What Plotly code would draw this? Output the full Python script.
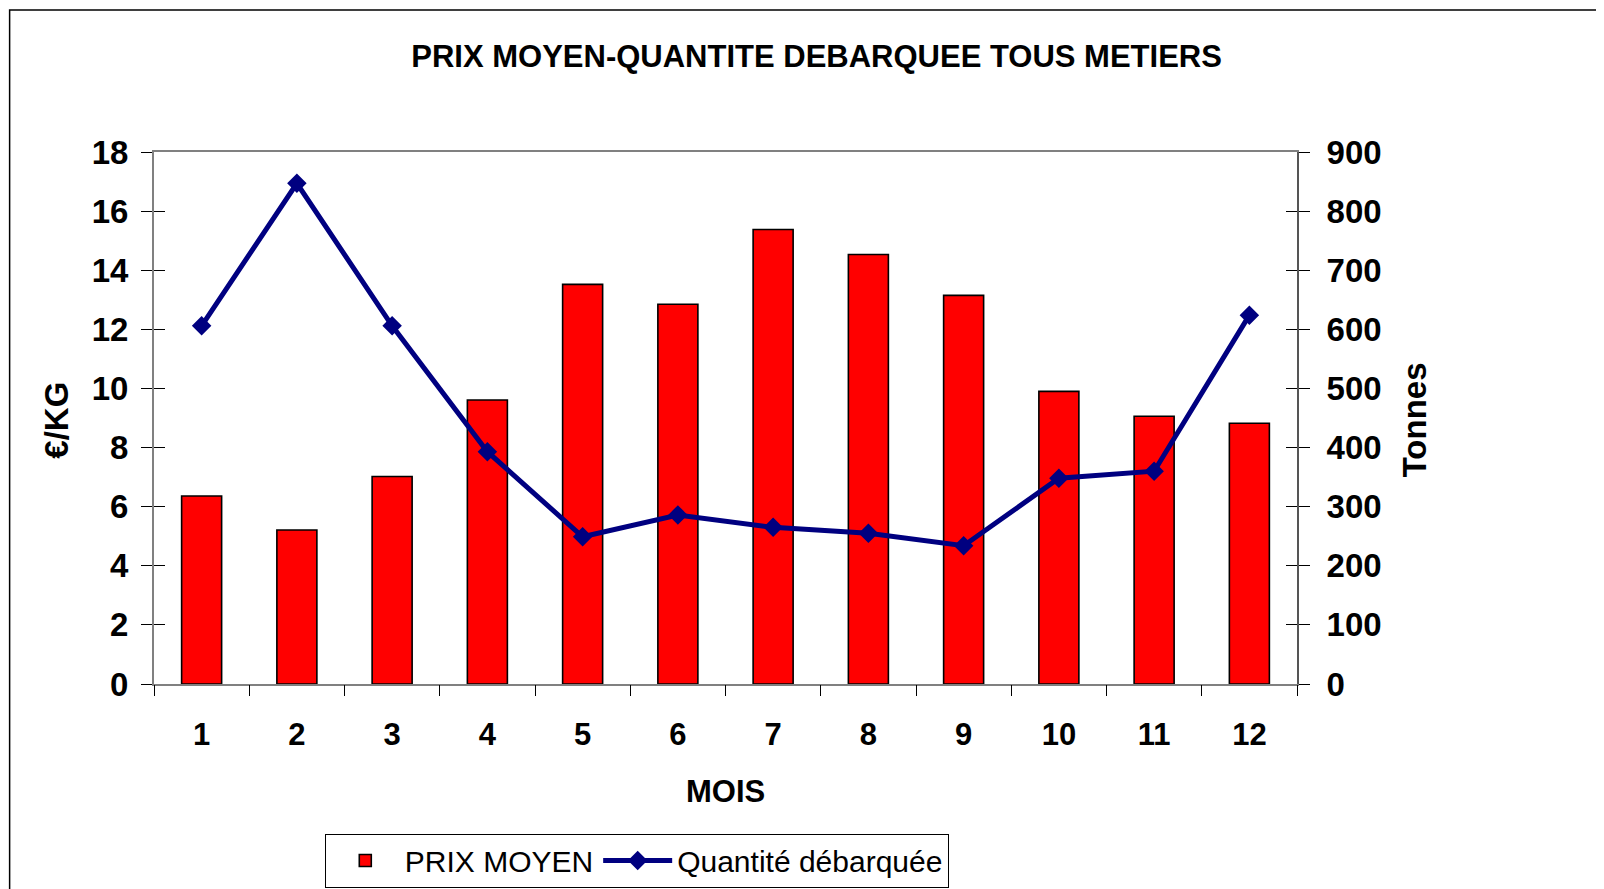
import plotly.graph_objects as go

# ---- data ----
months = [1, 2, 3, 4, 5, 6, 7, 8, 9, 10, 11, 12]
month_labels = ["1", "2", "3", "4", "5", "6", "7", "8", "9", "10", "11", "12"]
prix_moyen = [6.36, 5.21, 7.02, 9.61, 13.52, 12.85, 15.38, 14.53, 13.15, 9.90, 9.06, 8.82]
quantite = [606, 847, 606, 393, 249, 286, 265, 255, 234, 348, 360, 624]
left_ticks = [0, 2, 4, 6, 8, 10, 12, 14, 16, 18]
right_ticks = [0, 100, 200, 300, 400, 500, 600, 700, 800, 900]
boundaries = [m - 0.5 for m in months] + [months[-1] + 0.5]

# the page body has an 8px margin: work in page pixels, convert to figure pixels
OFF = 8
W, H = 1604 - 2 * OFF, 889 - OFF
L, R, T, B = 154.3 - OFF, 1296.7 - OFF, 151.7 - OFF, 684.3 - OFF
PW, PH = R - L, B - T


def px_x(px):
    return (px - OFF - L) / PW


def px_y(py):
    return (B - (py - OFF)) / PH


FONT = "Liberation Sans, Arial, sans-serif"
bold = dict(family=FONT, size=31, color="black", weight="bold")
bold_y = dict(family=FONT, size=33, color="black", weight="bold")

fig = go.Figure()

fig.add_trace(go.Bar(
    x=months, y=prix_moyen, name="PRIX MOYEN",
    marker=dict(color="#FF0000", line=dict(color="black", width=1.6)),
    width=0.42, xaxis="x", yaxis="y",
))
fig.add_trace(go.Scatter(
    x=months, y=quantite, name="Quantité débarquée",
    mode="lines+markers",
    line=dict(color="#000080", width=5),
    marker=dict(symbol="diamond", size=15, color="#000080"),
    xaxis="x", yaxis="y2",
))
# invisible helpers so that the inner tick axes are drawn
fig.add_trace(go.Scatter(
    x=months, y=prix_moyen, mode="markers", marker=dict(opacity=0),
    showlegend=False, hoverinfo="skip", xaxis="x3", yaxis="y3",
))
fig.add_trace(go.Scatter(
    x=months, y=quantite, mode="markers", marker=dict(opacity=0),
    showlegend=False, hoverinfo="skip", xaxis="x", yaxis="y4",
))

fig.update_layout(
    width=W, height=H,
    paper_bgcolor="white", plot_bgcolor="white",
    margin=dict(l=L, r=W - R, t=T, b=H - B, autoexpand=False),
    showlegend=True,
    title=dict(
        text="PRIX MOYEN-QUANTITE DEBARQUEE TOUS METIERS",
        font=dict(family=FONT, size=31, color="black", weight="bold"),
        x=(816.6 - OFF) / W, xref="container", xanchor="center",
        y=1 - (56 - OFF) / H, yref="container", yanchor="middle",
    ),
    xaxis=dict(
        range=[0.5, 12.5], tickmode="array", tickvals=months, ticktext=month_labels,
        ticks="", showline=True, linecolor="#808080", linewidth=2, mirror=True,
        showgrid=False, zeroline=False, tickfont=bold, ticklabelstandoff=22,
    ),
    xaxis3=dict(
        overlaying="x", anchor="y", side="bottom", range=[0.5, 12.5],
        tickmode="array", tickvals=boundaries, ticks="outside", ticklen=11,
        tickcolor="black", tickwidth=1, showticklabels=False, showline=False,
        showgrid=False, zeroline=False,
    ),
    yaxis=dict(
        range=[0, 18], tickmode="array", tickvals=left_ticks,
        ticks="outside", ticklen=11, tickcolor="black", tickwidth=1,
        showline=True, linecolor="#808080", linewidth=2,
        showgrid=False, zeroline=False, tickfont=bold_y, ticklabelstandoff=6,
    ),
    yaxis3=dict(
        overlaying="y", anchor="x", side="left", range=[0, 18],
        tickmode="array", tickvals=left_ticks, ticks="inside", ticklen=11,
        tickcolor="black", tickwidth=1, showticklabels=False, showline=False,
        showgrid=False, zeroline=False,
    ),
    yaxis2=dict(
        overlaying="y", anchor="x", side="right", range=[0, 900],
        tickmode="array", tickvals=right_ticks,
        ticks="outside", ticklen=11, tickcolor="black", tickwidth=1,
        showline=True, linecolor="#555555", linewidth=2,
        showgrid=False, zeroline=False, tickfont=bold_y, ticklabelstandoff=10,
    ),
    yaxis4=dict(
        overlaying="y", anchor="x", side="right", range=[0, 900],
        tickmode="array", tickvals=right_ticks, ticks="inside", ticklen=11,
        tickcolor="black", tickwidth=1, showticklabels=False, showline=False,
        showgrid=False, zeroline=False,
    ),
    legend=dict(
        orientation="h", x=px_x(325), y=px_y(834), xanchor="left", yanchor="top",
        bordercolor="black", borderwidth=1, bgcolor="white",
        font=dict(family=FONT, size=30, color="black"),
        itemwidth=69, traceorder="normal",
    ),
    annotations=[
        dict(text="€/KG", xref="paper", yref="paper", x=px_x(57), y=px_y(420),
             textangle=-90, showarrow=False, font=bold_y, xanchor="center", yanchor="middle"),
        dict(text="Tonnes", xref="paper", yref="paper", x=px_x(1415), y=px_y(420),
             textangle=-90, showarrow=False, font=bold_y, xanchor="center", yanchor="middle"),
        dict(text="MOIS", xref="paper", yref="paper", x=0.5, y=px_y(792),
             showarrow=False, font=bold, xanchor="center", yanchor="middle"),
    ],
    shapes=[
        dict(type="rect", xref="paper", yref="paper",
             x0=px_x(10), x1=px_x(1640), y0=px_y(930), y1=px_y(9.5),
             line=dict(color="black", width=1.5), fillcolor="rgba(0,0,0,0)", layer="below"),
    ],
)

fig.write_html("out.html")
